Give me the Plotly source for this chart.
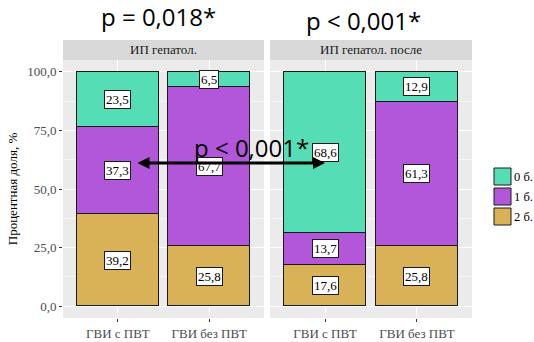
import plotly.graph_objects as go

# Data: share of patients (%) by score, two panels
panels = ["ИП гепатол.", "ИП гепатол. после"]
groups = ["ГВИ с ПВТ", "ГВИ без ПВТ"]
levels = ["2 б.", "1 б.", "0 б."]          # stacking order, bottom to top
colors = {"0 б.": "#55DDB6", "1 б.": "#B256DA", "2 б.": "#D9B257"}

panel1 = {"2 б.": [39.2, 25.8], "1 б.": [37.3, 67.7], "0 б.": [23.5, 6.5]}
panel2 = {"2 б.": [17.6, 25.8], "1 б.": [13.7, 61.3], "0 б.": [68.6, 12.9]}
panel_values = [panel1, panel2]

p_titles = ["p = 0,018*", "p < 0,001*"]
p_between = "p < 0,001*"

W, H = 534, 342
SERIF = "Liberation Serif"
SANS = "Open Sans"

# pixel layout helpers
def px(x):
    return x / W

def py(y):
    return 1 - y / H

x_domains = [[px(63), px(264)], [px(270), px(472)]]
y_domain = [py(318), py(60)]

fig = go.Figure()

for i, vals in enumerate(panel_values):
    xa = "x" if i == 0 else "x2"
    for lvl in levels:
        fig.add_trace(go.Bar(
            x=groups, y=vals[lvl], name=lvl, width=0.9,
            marker=dict(color=colors[lvl], line=dict(color="#1A1A1A", width=1)),
            xaxis=xa, yaxis="y" if i == 0 else "y2",
            showlegend=False, hoverinfo="skip",
        ))
    # value labels in the middle of each segment
    for g_idx, g in enumerate(groups):
        base = 0.0
        for lvl in levels:
            v = vals[lvl][g_idx]
            fig.add_annotation(
                x=g, y=base + v / 2, xref=xa, yref="y" if i == 0 else "y2",
                text=f"{v:.1f}".replace(".", ","), showarrow=False,
                xanchor="center", yanchor="middle",
                font=dict(family=SERIF, size=13, color="#000000"),
                bgcolor="white", bordercolor="#1A1A1A", borderwidth=1, borderpad=1,
            )
            base += v

axis_common = dict(
    showline=False, ticks="outside", ticklen=3, tickcolor="#333333",
    tickfont=dict(family=SERIF, size=13, color="#4D4D4D"),
    gridcolor="white", zeroline=False,
)

fig.update_layout(
    width=W, height=H, margin=dict(l=0, r=0, t=0, b=0, autoexpand=False),
    paper_bgcolor="white", plot_bgcolor="#EBEBEB",
    barmode="stack", bargap=0,
    separators=",.",
    showlegend=False,
    xaxis=dict(domain=x_domains[0], range=[-0.6, 1.6], gridwidth=1.1, **axis_common),
    xaxis2=dict(domain=x_domains[1], range=[-0.6, 1.6], gridwidth=1.1, anchor="y2", **axis_common),
    yaxis=dict(domain=y_domain, range=[-5, 105], tickvals=[0, 25, 50, 75, 100],
               tickformat=".1f", gridwidth=1.1,
               minor=dict(tickvals=[12.5, 37.5, 62.5, 87.5], showgrid=True,
                          gridcolor="#F5F5F5", gridwidth=0.6, ticks=""),
               title=dict(text="Процентная доля, %", font=dict(family=SERIF, size=13, color="#000000"),
                          standoff=6),
               **axis_common),
    yaxis2=dict(domain=y_domain, range=[-5, 105], tickvals=[0, 25, 50, 75, 100],
                showticklabels=False, ticks="", anchor="x2", gridwidth=1.1,
                minor=dict(tickvals=[12.5, 37.5, 62.5, 87.5], showgrid=True,
                           gridcolor="#F5F5F5", gridwidth=0.6, ticks=""),
                gridcolor="white", zeroline=False, showline=False),
)

# facet strips
for i, name in enumerate(panels):
    d = x_domains[i]
    fig.add_shape(type="rect", xref="paper", yref="paper",
                  x0=d[0], x1=d[1], y0=py(60), y1=py(40),
                  fillcolor="#D9D9D9", line=dict(width=0), layer="below")
    fig.add_annotation(x=(d[0] + d[1]) / 2, y=py(50), xref="paper", yref="paper",
                       text=name, showarrow=False, xanchor="center", yanchor="middle",
                       font=dict(family=SERIF, size=13, color="#1A1A1A"))

# legend keys (score levels, top to bottom 0, 1, 2)
for k, lvl in enumerate(reversed(levels)):
    top = 168 + k * 20
    fig.add_shape(type="rect", xref="paper", yref="paper",
                  x0=px(494), x1=px(511), y0=py(top + 17), y1=py(top),
                  fillcolor=colors[lvl], line=dict(color="#1A1A1A", width=1))
    fig.add_annotation(x=px(513), y=py(top + 8.5), xref="paper", yref="paper",
                       text=lvl, showarrow=False, xanchor="left", yanchor="middle",
                       borderpad=0, font=dict(family=SERIF, size=12.5, color="#000000"))

# significance labels
for text, cx, cy in [(p_titles[0], 158, 16), (p_titles[1], 363, 20), (p_between, 251, 147)]:
    fig.add_annotation(x=px(cx), y=py(cy), xref="paper", yref="paper", text=text,
                       showarrow=False, xanchor="center", yanchor="middle",
                       font=dict(family=SANS, size=24, color="#000000"))

# comparison arrow between the two "ГВИ с ПВТ" bars
fig.add_annotation(x=px(325), y=py(163), ax=-(325 - 136), ay=0,
                   xref="paper", yref="paper", axref="pixel", ayref="pixel",
                   text="", showarrow=True, arrowhead=2, arrowside="end+start",
                   arrowwidth=3, arrowsize=0.8, arrowcolor="#000000")

fig.write_html("out.html")
